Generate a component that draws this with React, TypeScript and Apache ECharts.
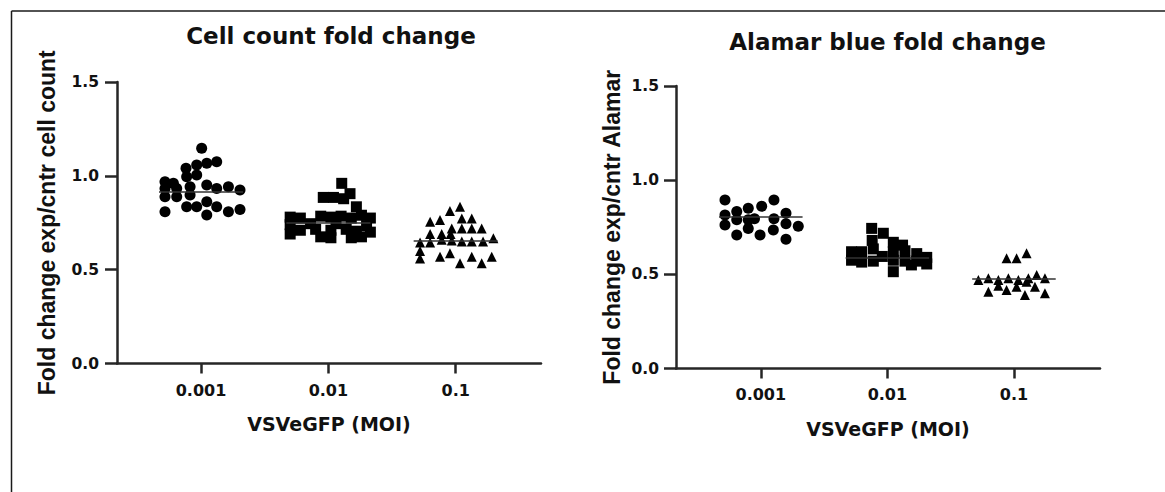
import React, { useEffect, useRef } from "react";
import * as echarts from "echarts";

const categories = ["0.001", "0.01", "0.1"];
const yTickValues = [0, 0.5, 1.0, 1.5];

// each point: [horizontal spread inside its group, fold change]
const cellCount001: number[][] = [
  [0.005, 1.147], [0.123, 1.075], [0.045, 1.067], [-0.034, 1.058], [-0.118, 1.04],
  [-0.034, 1.004], [-0.113, 0.995], [-0.283, 0.969], [-0.217, 0.96], [-0.283, 0.933],
  [-0.191, 0.933], [-0.086, 0.942], [0.045, 0.951], [0.123, 0.933], [0.215, 0.942],
  [0.306, 0.924], [-0.283, 0.889], [-0.191, 0.889], [-0.086, 0.898], [-0.283, 0.809],
  [-0.113, 0.835], [-0.034, 0.835], [0.045, 0.862], [0.045, 0.791], [0.123, 0.835],
  [0.215, 0.809], [0.306, 0.821],
];
const cellCount01: number[][] = [
  [0.105, 0.96], [0.17, 0.905], [-0.04, 0.885], [0.04, 0.885], [0.12, 0.878], [0.22, 0.835],
  [-0.3, 0.78], [-0.22, 0.775], [-0.06, 0.785], [0.02, 0.78], [0.1, 0.785], [0.18, 0.775],
  [0.26, 0.79], [0.33, 0.775], [-0.3, 0.74], [-0.14, 0.745], [0.06, 0.745], [0.3, 0.735],
  [-0.22, 0.71], [-0.1, 0.715], [0.02, 0.71], [0.14, 0.715], [0.22, 0.705], [-0.3, 0.69],
  [-0.06, 0.675], [0.02, 0.67], [0.18, 0.67], [0.26, 0.675], [0.33, 0.7],
];
const cellCount1: number[][] = [
  [0.034, 0.835], [-0.045, 0.812], [-0.123, 0.765], [-0.201, 0.755], [0.048, 0.773],
  [0.126, 0.773], [-0.031, 0.72], [0.048, 0.72], [0.126, 0.72], [0.204, 0.72],
  [-0.201, 0.69], [-0.11, 0.69], [-0.04, 0.69], [0.296, 0.667], [-0.28, 0.645],
  [-0.201, 0.645], [-0.11, 0.66], [-0.031, 0.655], [0.048, 0.65], [0.126, 0.65],
  [0.215, 0.65], [-0.28, 0.6], [-0.28, 0.56], [-0.123, 0.569], [-0.045, 0.587],
  [0.034, 0.534], [0.126, 0.569], [0.204, 0.534], [0.283, 0.569],
];
const cellCountMedians = [0.915, 0.75, 0.655];

const alamar001: number[][] = [
  [-0.283, 0.895], [-0.283, 0.815], [-0.283, 0.762], [-0.19, 0.833], [-0.099, 0.851],
  [0.007, 0.862], [0.104, 0.895], [-0.19, 0.709], [-0.099, 0.744], [-0.006, 0.709],
  [0.099, 0.735], [0.199, 0.824], [0.199, 0.768], [0.199, 0.686], [0.296, 0.755],
  [-0.19, 0.79], [-0.05, 0.795], [0.104, 0.795], [-0.099, 0.79],
];
const alamar01: number[][] = [
  [-0.124, 0.744], [-0.032, 0.718], [-0.12, 0.68], [0.047, 0.67], [0.12, 0.655],
  [-0.283, 0.62], [-0.203, 0.62], [-0.111, 0.635], [0.047, 0.62], [0.139, 0.625],
  [0.232, 0.61], [-0.283, 0.575], [-0.111, 0.57], [-0.04, 0.595], [0.047, 0.575],
  [0.139, 0.57], [0.232, 0.57], [0.311, 0.59], [0.311, 0.555], [-0.203, 0.565],
  [0.047, 0.514], [0.19, 0.55],
];
const alamar1: number[][] = [
  [-0.058, 0.585], [0.021, 0.585], [0.1, 0.612], [-0.281, 0.47], [-0.202, 0.479],
  [-0.123, 0.47], [-0.044, 0.479], [0.035, 0.47], [0.114, 0.479], [0.18, 0.497],
  [0.245, 0.479], [-0.202, 0.408], [-0.058, 0.417], [0.087, 0.39], [0.245, 0.399],
  [0.021, 0.434], [0.166, 0.434], [-0.123, 0.44], [0.1, 0.46],
];
const alamarMedians = [0.806, 0.587, 0.479];

const TEXT = "#111";
const AXIS = "#262626";
const INK = "#000";
const BOLD_SANS = "DejaVu Sans";
const ARIAL = "Liberation Sans";

function xAxisFor(gridIndex: number, min: number, max: number) {
  return {
    type: "value",
    gridIndex,
    min,
    max,
    name: "VSVeGFP (MOI)",
    nameLocation: "middle",
    nameGap: 51,
    nameTextStyle: { color: TEXT, fontFamily: BOLD_SANS, fontWeight: "bold", fontSize: 19 },
    axisLine: { show: true, onZero: false, lineStyle: { color: AXIS, width: 2.5 } },
    axisTick: { show: true, customValues: [0, 1, 2], length: 10, lineStyle: { color: AXIS, width: 2.5 } },
    axisLabel: {
      show: true,
      customValues: [0, 1, 2],
      formatter: (v: number) => categories[Math.round(v)] ?? "",
      margin: gridIndex === 0 ? 19 : 18,
      color: TEXT,
      fontFamily: BOLD_SANS,
      fontWeight: "bold",
      fontSize: 16,
    },
    splitLine: { show: false },
  };
}

function yAxisFor(gridIndex: number, name: string, nameGap: number) {
  return {
    type: "value",
    gridIndex,
    min: yTickValues[0],
    max: yTickValues[yTickValues.length - 1],
    interval: 0.5,
    name,
    nameLocation: "middle",
    nameGap,
    nameTextStyle: { color: TEXT, fontFamily: ARIAL, fontWeight: "bold", fontSize: 23 },
    axisLine: { show: true, onZero: false, lineStyle: { color: AXIS, width: 2.5 } },
    axisTick: { show: true, length: 12, lineStyle: { color: AXIS, width: 2.5 } },
    axisLabel: {
      formatter: (v: number) => v.toFixed(1),
      margin: gridIndex === 0 ? 18 : 17,
      color: TEXT,
      fontFamily: BOLD_SANS,
      fontWeight: "bold",
      fontSize: 15.5,
    },
    splitLine: { show: false },
  };
}

function groupSeries(
  gridIndex: number,
  catIndex: number,
  points: number[][],
  median: number,
  symbol: string,
  size: number
) {
  return {
    type: "scatter",
    xAxisIndex: gridIndex,
    yAxisIndex: gridIndex,
    symbol,
    symbolSize: size,
    itemStyle: { color: INK, opacity: 1 },
    data: points.map(([j, v]) => [catIndex + j, v]),
    markLine: {
      silent: true,
      symbol: ["none", "none"],
      label: { show: false },
      lineStyle: { color: "#333", width: 1.5, type: "solid", opacity: 1 },
      emphasis: { disabled: true },
      data: [[{ coord: [catIndex - 0.33, median] }, { coord: [catIndex + 0.33, median] }]],
    },
  };
}

function titleText(text: string, x: number, y: number) {
  return {
    type: "text",
    x,
    y,
    style: {
      text,
      fill: TEXT,
      fontFamily: BOLD_SANS,
      fontWeight: "bold",
      fontSize: 23,
      textAlign: "center",
      align: "center",
      textVerticalAlign: "middle",
      verticalAlign: "middle",
    },
  };
}

export default function App() {
  const ref = useRef<HTMLDivElement>(null);

  useEffect(() => {
    if (!ref.current) return;
    const chart = echarts.init(ref.current, undefined, { renderer: "svg" });
    const cellGroups = [cellCount001, cellCount01, cellCount1];
    const alamarGroups = [alamar001, alamar01, alamar1];
    const symbols = ["circle", "rect", "triangle"];
    const sizes = [11, 11, 10];

    const option: any = {
      animation: false,
      backgroundColor: "#fff",
      grid: [
        { left: 117, right: 624, top: 82, bottom: 128.5 },
        { left: 676, right: 65, top: 86, bottom: 123.5 },
      ],
      xAxis: [xAxisFor(0, -0.66, 2.67), xAxisFor(1, -0.67, 2.68)],
      yAxis: [
        yAxisFor(0, "Fold change exp/cntr cell count", 59),
        yAxisFor(1, "Fold change exp/cntr Alamar", 53),
      ],
      series: [
        ...cellGroups.map((pts, i) => groupSeries(0, i, pts, cellCountMedians[i], symbols[i], sizes[i])),
        ...alamarGroups.map((pts, i) => groupSeries(1, i, pts, alamarMedians[i], symbols[i], sizes[i])),
      ],
      graphic: [
        { type: "line", shape: { x1: 11.5, y1: 11, x2: 1165, y2: 11 }, style: { stroke: "#1a1a1a", lineWidth: 1.5 } },
        { type: "line", shape: { x1: 11.5, y1: 11, x2: 11.5, y2: 492 }, style: { stroke: "#1a1a1a", lineWidth: 1.5 } },
        titleText("Cell count fold change", 331, 36),
        titleText("Alamar blue fold change", 887.5, 41.5),
      ],
    };
    chart.setOption(option);
    return () => chart.dispose();
  }, []);

  return (
    <div
      ref={ref}
      style={{ position: "absolute", left: 0, top: 0, width: 1165, height: 492, background: "#fff" }}
    />
  );
}
